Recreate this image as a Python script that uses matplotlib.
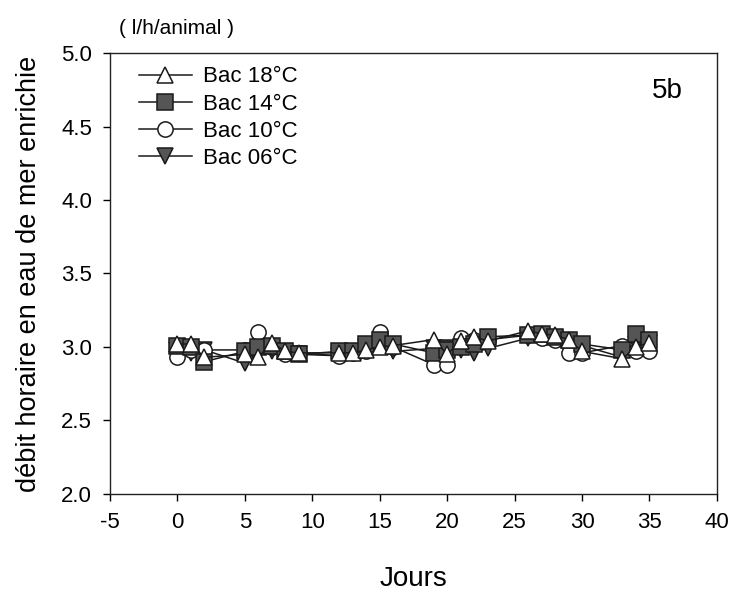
import matplotlib
matplotlib.use("Agg")
from matplotlib import pyplot as plt

# sampling days
jours = [0, 1, 2, 5, 6, 7, 8, 9, 12, 13, 14, 15, 16, 19, 20, 21, 22, 23,
         26, 27, 28, 29, 30, 33, 34, 35]

# hourly clearance (l/h/animal) per tank
bac_18 = [3.02, 3.02, 2.93, 2.95, 2.93, 3.03, 2.97, 2.96, 2.96, 2.96, 2.98, 3.00, 3.01,
          3.05, 2.95, 3.04, 3.07, 3.04, 3.11, 3.09, 3.08, 3.05, 2.97, 2.92, 3.00, 3.03]
bac_14 = [3.01, 3.00, 2.90, 2.97, 3.00, 3.01, 2.97, 2.95, 2.97, 2.97, 3.02, 3.05, 3.02,
          2.96, 2.98, 3.00, 3.02, 3.07, 3.08, 3.09, 3.07, 3.05, 3.02, 2.98, 3.09, 3.05]
bac_10 = [2.93, 2.98, 2.98, 2.98, 3.10, 3.00, 2.95, 2.96, 2.94, 2.96, 2.97, 3.10, 3.00,
          2.88, 2.88, 3.06, 3.05, 3.05, 3.08, 3.06, 3.05, 2.96, 2.96, 3.01, 2.97, 2.97]
bac_06 = [2.98, 2.96, 2.98, 2.89, 2.95, 2.97, 2.95, 2.95, 2.94, 2.96, 3.00, 3.03, 2.97,
          2.99, 2.99, 2.98, 2.96, 2.99, 3.06, 3.07, 3.06, 3.02, 3.01, 2.93, 3.02, 3.03]

x_ticks = [-5, 0, 5, 10, 15, 20, 25, 30, 35, 40]
y_ticks = [2.0, 2.5, 3.0, 3.5, 4.0, 4.5, 5.0]

plt.rcParams['font.family'] = ['Liberation Sans', 'DejaVu Sans']
plt.rcParams['axes.unicode_minus'] = False

fig = plt.figure(figsize=(7.36, 5.93), dpi=100)
ax = fig.add_axes([0.1495, 0.167, 0.8245, 0.7436])

grey = '#555555'
line_kw = dict(color='#1a1a1a', linewidth=1.1, markersize=11, markeredgecolor='#1a1a1a',
               markeredgewidth=1.1)

ax.plot(jours, bac_06, marker='v', markerfacecolor=grey, label='Bac 06°C', **line_kw)
ax.plot(jours, bac_10, marker='o', markerfacecolor='white', label='Bac 10°C', **line_kw)
ax.plot(jours, bac_14, marker='s', markerfacecolor=grey, label='Bac 14°C', **line_kw)
ax.plot(jours, bac_18, marker='^', markerfacecolor='white', label='Bac 18°C', **line_kw)

ax.set_xlim(-5, 40)
ax.set_ylim(2.0, 5.0)
ax.set_xticks(x_ticks)
ax.set_yticks(y_ticks)
ax.set_yticklabels(['%.1f' % v for v in y_ticks])
ax.tick_params(direction='out', length=5, width=1, labelsize=16, pad=8)

for s in ax.spines.values():
    s.set_linewidth(1.0)
    s.set_color('#222222')

ax.set_xlabel('Jours', fontsize=20, labelpad=24)
ax.set_ylabel('débit horaire en eau de mer enrichie', fontsize=19.5, labelpad=14)
ax.text(-4.3, 5.1, '( l/h/animal )', fontsize=15, ha='left', va='bottom')
ax.text(37.5, 4.74, '5b', fontsize=20, ha='right', va='center')

handles, labels = ax.get_legend_handles_labels()
ax.legend(handles[::-1], labels[::-1], loc='upper left', frameon=False, fontsize=16,
          handlelength=2.4, handletextpad=0.5, labelspacing=0.28,
          bbox_to_anchor=(0.025, 1.0), borderaxespad=0.2)

fig.savefig('out.png', dpi=100)
